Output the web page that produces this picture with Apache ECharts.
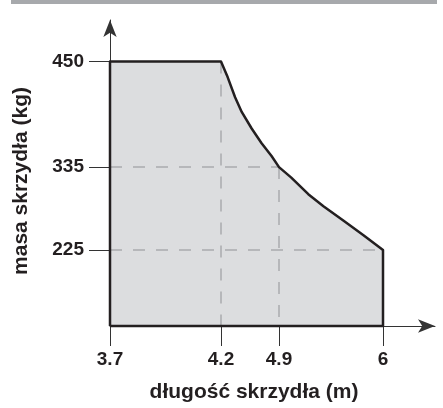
<!doctype html>
<html>
<head>
<meta charset="UTF-8">
<title>masa skrzydła</title>
<script src="https://cdn.jsdelivr.net/npm/echarts@6/dist/echarts.min.js"></script>
<style>
  html, body { margin: 0; padding: 0; background: #fff; }
  #main { width: 443px; height: 408px; }
</style>
</head>
<body>
<div id="main"></div>
<script>
// dane z wykresu
var xTicks = [3.7, 4.2, 4.9, 6];          // długość skrzydła (m)
var yTicks = [225, 335, 450];             // masa skrzydła (kg)
// granica: od 4.2 m / 450 kg do 6 m / 225 kg
var curveX = [4.2, 4.28, 4.37, 4.45, 4.57, 4.69, 4.81, 4.9, 5.03, 5.21, 5.37, 5.58, 5.79, 6];
var curveY = [450, 433, 411, 395, 377, 361, 347, 335, 321, 299, 283, 264, 245, 225];
var xName = 'długość skrzydła (m)';
var yName = 'masa skrzydła (kg)';

// skala osi na rysunku nie jest liniowa - rozmieszczenie podziałek
var xTickAt = [0, 111, 169, 273], xSpan = 325;
var yTickAt = [77, 161, 268], ySpan = 310;

function warp(v, ticks, at) {
    var i = 0;
    while (i < ticks.length - 2 && v > ticks[i + 1]) i++;
    return at[i] + (v - ticks[i]) * (at[i + 1] - at[i]) / (ticks[i + 1] - ticks[i]);
}
function wx(v) { return warp(v, xTicks, xTickAt); }
function wy(v) { return warp(v, yTicks, yTickAt); }
function label(v, ticks, at) {
    var i = at.indexOf(v);
    return i < 0 ? '' : String(ticks[i]);
}

var x0 = xTicks[0], xEnd = xTicks[xTicks.length - 1];
var yTop = yTicks[yTicks.length - 1];

// obrys obszaru (0 = dół osi)
var shape = [[wx(x0), 0], [wx(x0), wy(yTop)]];
for (var i = 0; i < curveX.length; i++) {
    shape.push([wx(curveX[i]), wy(curveY[i])]);
}
shape.push([wx(xEnd), 0]);
shape.push([wx(x0), 0]);

// linie pomocnicze
var guides = [
    [[0, wy(335)], [wx(4.9), wy(335)]],
    [[0, wy(225)], [wx(6), wy(225)]],
    [[wx(4.2), wy(450)], [wx(4.2), 0]],
    [[wx(4.9), wy(335)], [wx(4.9), 0]]
];

var font = 'Liberation Sans, Arial, Helvetica, sans-serif';
var axisColor = '#333';

var series = [{
    type: 'line',
    data: shape,
    symbol: 'none',
    clip: false,
    z: 1,
    lineStyle: { width: 0 },
    areaStyle: { color: '#dcdddf', opacity: 1 }
}];
guides.forEach(function (g) {
    series.push({
        type: 'line',
        data: g,
        symbol: 'none',
        clip: false,
        z: 2,
        lineStyle: { color: '#a9abae', width: 1.5, type: [12, 11] }
    });
});
series.push({
    type: 'line',
    data: shape,
    symbol: 'none',
    clip: false,
    z: 3,
    lineStyle: { color: '#231f20', width: 2.5, join: 'round' }
});

var myChart = echarts.init(document.getElementById('main'), null, { renderer: 'canvas' });
var option = {
    animation: false,
    backgroundColor: '#fff',
    graphic: [{
        type: 'rect',
        shape: { x: 11, y: 0, width: 426, height: 4 },
        style: { fill: '#a7a9ac' }
    }],
    grid: { left: 110, right: 8, top: 20, bottom: 78 },
    xAxis: {
        type: 'value',
        min: 0,
        max: xSpan,
        name: xName,
        nameLocation: 'middle',
        nameGap: 56,
        nameTextStyle: { fontFamily: font, fontWeight: 'bold', fontSize: 21, color: '#231f20', padding: [0, 37, 0, 0] },
        splitLine: { show: false },
        axisLine: { lineStyle: { color: axisColor, width: 1 }, symbol: ['none', 'arrow'], symbolSize: [10, 17] },
        axisTick: { length: 20, customValues: xTickAt, lineStyle: { color: axisColor, width: 1 } },
        axisLabel: {
            customValues: xTickAt,
            margin: 24,
            fontFamily: font, fontWeight: 'bold', fontSize: 19, color: '#231f20',
            formatter: function (v) { return label(v, xTicks, xTickAt); }
        }
    },
    yAxis: {
        type: 'value',
        min: 0,
        max: ySpan,
        name: yName,
        nameLocation: 'middle',
        nameGap: 78,
        nameTextStyle: { fontFamily: font, fontWeight: 'bold', fontSize: 21, color: '#231f20', padding: [0, 16, 0, 0] },
        splitLine: { show: false },
        axisLine: { lineStyle: { color: axisColor, width: 1 }, symbol: ['none', 'arrow'], symbolSize: [10, 17] },
        axisTick: { length: 21, customValues: yTickAt, lineStyle: { color: axisColor, width: 1 } },
        axisLabel: {
            customValues: yTickAt,
            margin: 26,
            fontFamily: font, fontWeight: 'bold', fontSize: 19, color: '#231f20',
            formatter: function (v) { return label(v, yTicks, yTickAt); }
        }
    },
    series: series
};
myChart.setOption(option);
</script>
</body>
</html>
